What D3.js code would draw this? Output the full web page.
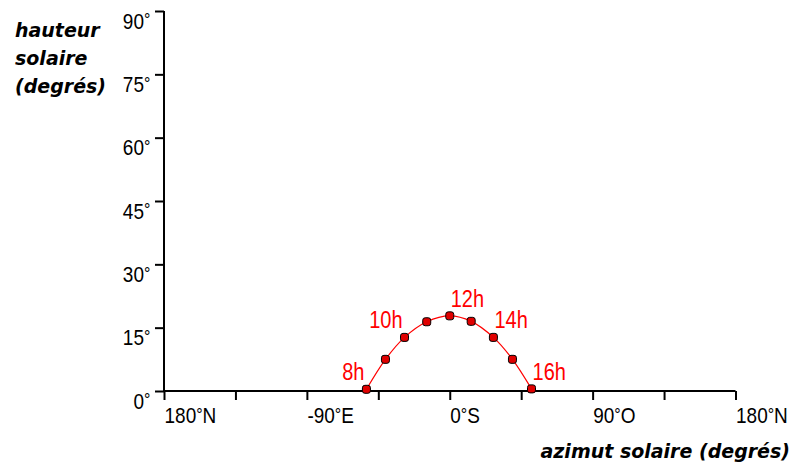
<!DOCTYPE html>
<html><head><meta charset="utf-8">
<script src="https://cdn.jsdelivr.net/npm/d3@7/dist/d3.min.js"></script>
<style>
html,body{margin:0;padding:0;background:#fff;}
svg{display:block;}
</style></head>
<body>
<svg id="chart" width="798" height="468"></svg>
<script>
// Data
const hours = ["8h","9h","10h","11h","12h","13h","14h","15h","16h"];
const azimuth = [-52.5, -40.5, -28.5, -14.5, 0, 13.5, 27.5, 39.5, 51.5];
const altitude = [0.4, 7.5, 12.7, 16.4, 17.8, 16.5, 12.7, 7.5, 0.5];
const labeledHours = ["8h","10h","12h","14h","16h"];
const xTickValues = [-180, -135, -90, -45, 0, 45, 90, 135, 180];
const xTickLabels = {"-180":["180","N"], "-90":["-90","E"], "0":["0","S"], "90":["90","O"], "180":["180","N"]};
const yTickValues = [0, 15, 30, 45, 60, 75, 90];
const yTitleLines = ["hauteur", "solaire", "(degrés)"];
const xTitle = "azimut solaire (degrés)";

const svg = d3.select("#chart");
const x = d3.scaleLinear().domain([-180, 180]).range([164, 735.5]);
const y = d3.scaleLinear().domain([0, 90]).range([391, 11]);

const tickFont = "'Liberation Sans', Arial, sans-serif";
const titleFont = "'DejaVu Sans', Verdana, sans-serif";
const SY = 1.15;

function degLabel(sel, num, suffix) {
  sel.text(null);
  sel.append("tspan").text(num);
  sel.append("tspan").attr("font-size", 16).attr("dy", -2).text("°");
  sel.append("tspan").attr("dy", 2).text(suffix || "\u200A");
}

// Y axis
const yAxis = d3.axisLeft(y).tickValues(yTickValues).tickSize(9).tickFormat(d => d + "°");
const gy = svg.append("g").attr("transform", `translate(${x(-180)},0)`).call(yAxis);
gy.select(".domain").attr("stroke", "#000").attr("stroke-width", 2).attr("d", `M0,${y(90)}V${y(0)}`);
gy.selectAll(".tick line").attr("stroke", "#000").attr("stroke-width", 2);
gy.selectAll(".tick text")
  .attr("x", null).attr("y", null).attr("dy", null)
  .attr("transform", `translate(-12,17) scale(1,${SY})`)
  .attr("font-family", tickFont).attr("font-size", 19).attr("fill", "#000")
  .each(function(d) { degLabel(d3.select(this), String(d), null); });

// X axis
const xAxis = d3.axisBottom(x).tickValues(xTickValues).tickSize(9)
  .tickFormat(d => xTickLabels[String(d)] ? xTickLabels[String(d)].join("°") : "");
const gx = svg.append("g").attr("transform", `translate(0,${y(0)})`).call(xAxis);
gx.select(".domain").attr("stroke", "#000").attr("stroke-width", 2).attr("d", `M${x(-180)},0H${x(180)}`);
gx.selectAll(".tick line").attr("stroke", "#000").attr("stroke-width", 2);
gx.selectAll(".tick text")
  .attr("text-anchor", "start").attr("x", null).attr("y", null).attr("dy", null)
  .attr("transform", `translate(0,32) scale(1,${SY})`)
  .attr("font-family", tickFont).attr("font-size", 19).attr("fill", "#000")
  .each(function(d) {
    const lab = xTickLabels[String(d)];
    if (lab) degLabel(d3.select(this), lab[0], lab[1]);
  });

// Titles
const yt = svg.append("text").attr("font-family", titleFont).attr("font-size", 19)
  .attr("font-weight", "bold").attr("font-style", "italic").attr("fill", "#000");
yTitleLines.forEach((t, i) => {
  yt.append("tspan").attr("x", 15).attr("y", 37 + i * 28).text(t);
});
svg.append("text").attr("x", 790).attr("y", 458).attr("text-anchor", "end")
  .attr("font-family", titleFont).attr("font-size", 19)
  .attr("font-weight", "bold").attr("font-style", "italic").attr("fill", "#000")
  .text(xTitle);

// Data
const pts = hours.map((h, i) => ({h, az: azimuth[i], alt: altitude[i]}));
const line = d3.line().x(d => x(d.az)).y(d => y(d.alt)).curve(d3.curveCatmullRom.alpha(0.5));
svg.append("path").datum(pts).attr("d", line).attr("fill", "none")
  .attr("stroke", "#ff0000").attr("stroke-width", 1.2);

svg.selectAll("rect.pt").data(pts).join("rect").attr("class", "pt")
  .attr("x", d => x(d.az) - 4).attr("y", d => y(d.alt) - 4)
  .attr("width", 8).attr("height", 8).attr("rx", 2.5)
  .attr("fill", "#e00000").attr("stroke", "#000").attr("stroke-width", 1);

svg.selectAll("text.hl").data(pts.filter(d => labeledHours.includes(d.h))).join("text")
  .attr("class", "hl")
  .attr("transform", d => `translate(${d.az < 0 ? x(d.az) - 2 : x(d.az) + 1},${y(d.alt) - 9}) scale(1,${SY})`)
  .attr("text-anchor", d => d.az < 0 ? "end" : "start")
  .attr("font-family", tickFont).attr("font-size", 20).attr("fill", "#ff0000")
  .text(d => d.h);
</script>
</body></html>
